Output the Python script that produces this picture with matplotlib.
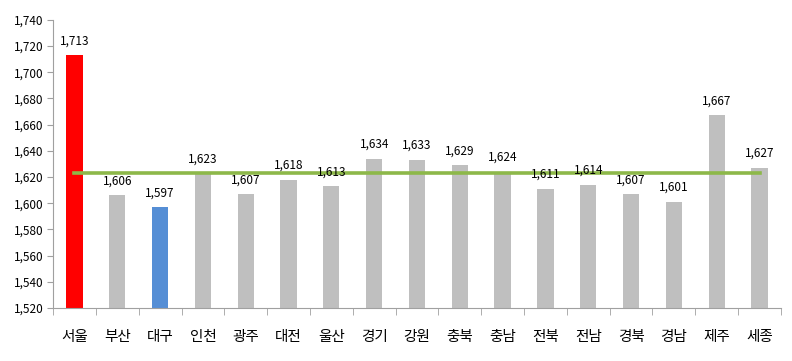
import matplotlib
matplotlib.use("Agg")
import matplotlib.pyplot as plt
from matplotlib.ticker import FuncFormatter, MultipleLocator, FixedLocator

plt.rcParams['font.family'] = ['Noto Sans CJK KR', 'DejaVu Sans']

regions = ['서울', '부산', '대구', '인천', '광주', '대전', '울산', '경기', '강원',
           '충북', '충남', '전북', '전남', '경북', '경남', '제주', '세종']
values = [1713, 1606, 1597, 1623, 1607, 1618, 1613, 1634, 1633, 1629, 1624,
          1611, 1614, 1607, 1601, 1667, 1627]
average = 1623

colors = ['#FF0000' if r == '서울' else '#558ED5' if r == '대구' else '#BFBFBF' for r in regions]

fig = plt.figure(figsize=(7.92, 3.61), dpi=100)
ax = fig.add_axes([0.067, 0.147, 0.919, 0.798])
x = list(range(len(regions)))
ax.bar(x, [v - 1520 for v in values], bottom=1520, width=0.38, color=colors, zorder=2)
ax.plot([x[0], x[-1]], [average, average], color='#8DB849', lw=2.6, zorder=3)
for xi, v in zip(x, values):
    ax.text(xi, v + 6, f'{v:,}', ha='center', va='bottom', fontsize=8.5, zorder=4)

ax.set_xlim(-0.5, len(regions) - 0.5)
ax.set_ylim(1520, 1740)
ax.yaxis.set_major_locator(MultipleLocator(20))
ax.yaxis.set_major_formatter(FuncFormatter(lambda v, p: f'{int(v):,}'))
ax.set_xticks(x)
ax.set_xticklabels(regions, fontsize=10.5)
ax.xaxis.set_minor_locator(FixedLocator([i + 0.5 for i in range(-1, len(regions))]))
ax.tick_params(axis='x', which='major', length=0, pad=16)
ax.tick_params(axis='x', which='minor', length=5, color='#A0A0A0')
ax.tick_params(axis='y', length=4, color='#A0A0A0', labelsize=8.5, pad=3)
for s in ['top', 'right']:
    ax.spines[s].set_visible(False)
ax.spines['left'].set_color('#A0A0A0')
ax.spines['bottom'].set_color('#A0A0A0')

fig.savefig('out.png', dpi=100)
